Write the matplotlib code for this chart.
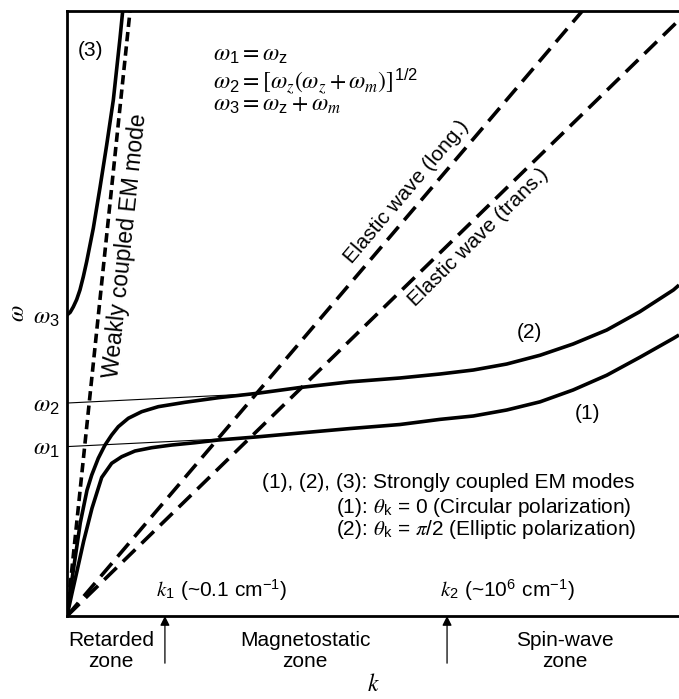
import matplotlib
matplotlib.use("Agg")
import matplotlib.pyplot as plt

plt.rcParams['font.family'] = ['Liberation Sans', 'DejaVu Sans']
plt.rcParams['mathtext.fontset'] = 'custom'
plt.rcParams['mathtext.rm'] = 'STIXGeneral'
plt.rcParams['mathtext.it'] = 'STIXGeneral:italic'
plt.rcParams['mathtext.sf'] = 'Liberation Sans'
plt.rcParams['mathtext.fallback'] = 'stix'

# characteristic frequencies (normalised axis units)
w1, w2, w3 = 0.280, 0.352, 0.4975
k1, k2 = 0.160, 0.621

# mode (1): theta_k = 0
k_mode1 = [0, 0.008, 0.0163, 0.0273, 0.0408, 0.0567, 0.073, 0.0894, 0.111, 0.1384,
           0.171, 0.209, 0.2472, 0.310, 0.381, 0.462, 0.544, 0.6095, 0.664, 0.7185,
           0.773, 0.827, 0.882, 0.936, 0.991, 1.0]
w_mode1 = [0, 0.037, 0.074, 0.124, 0.178, 0.229, 0.2524, 0.2633, 0.2727, 0.2782,
           0.2826, 0.2864, 0.2909, 0.296, 0.3025, 0.3098, 0.3165, 0.325, 0.3306, 0.3405,
           0.354, 0.3736, 0.398, 0.4276, 0.459, 0.4645]

# mode (2): theta_k = pi/2
k_mode2 = [0, 0.006, 0.0136, 0.0217, 0.0327, 0.0404, 0.0511, 0.0621, 0.073, 0.0838,
           0.1002, 0.122, 0.1492, 0.1928, 0.2472, 0.310, 0.381, 0.462, 0.544, 0.6095,
           0.664, 0.7185, 0.773, 0.827, 0.882, 0.936, 0.991, 1.0]
w_mode2 = [0, 0.046, 0.098, 0.154, 0.208, 0.233, 0.2607, 0.2826, 0.2992, 0.3129,
           0.3268, 0.3377, 0.346, 0.3532, 0.3608, 0.368, 0.3777, 0.387, 0.3934, 0.400,
           0.4066, 0.4165, 0.431, 0.4496, 0.4727, 0.503, 0.539, 0.547]

# mode (3)
k_mode3 = [0, 0.0052, 0.0103, 0.0158, 0.0212, 0.0267, 0.0322, 0.043, 0.0539, 0.0649,
           0.0757, 0.0866, 0.091]
w_mode3 = [w3, 0.502, 0.511, 0.523, 0.539, 0.561, 0.586, 0.641, 0.708, 0.779,
           0.853, 0.955, 1.0]

# straight dispersion lines (end points)
k_em, w_em = [0, 0.103], [0, 1.0]
k_long, w_long = [0, 0.842], [0, 1.0]
k_trans, w_trans = [0, 1.0], [0, 0.985]

# asymptote guides
k_guide2, w_guide2 = [0, 0.30], [w2, 0.367]
k_guide1, w_guide1 = [0, 0.30], [w1, 0.295]

fig = plt.figure(figsize=(6.79, 6.99), dpi=100)
ax = fig.add_axes([67 / 679, 83 / 699, 612 / 679, 605 / 699])
ax.set_xlim(0, 1)
ax.set_ylim(0, 1)

lw = 2.6
for kk, ww in [(k_mode1, w_mode1), (k_mode2, w_mode2), (k_mode3, w_mode3)]:
    ax.plot(kk, ww, color='black', lw=lw, solid_capstyle='butt', solid_joinstyle='round')
ax.plot(k_guide1, w_guide1, color='black', lw=0.8)
ax.plot(k_guide2, w_guide2, color='black', lw=0.8)
ax.plot(k_em, w_em, color='black', lw=lw, dashes=(2.6, 1.4))
ax.plot(k_long, w_long, color='black', lw=lw, dashes=(4.8, 2.4))
ax.plot(k_trans, w_trans, color='black', lw=lw, dashes=(4.8, 2.4))

ax.spines['right'].set_visible(False)
for side in ['left', 'bottom', 'top']:
    ax.spines[side].set_linewidth(2.0)

ax.set_xticks([])
ax.set_yticks([w1, w2, w3])
ax.set_yticklabels([r'$\omega_{\mathsf{1}}$', r'$\omega_{\mathsf{2}}$', r'$\omega_{\mathsf{3}}$'],
                   fontsize=17)
ax.tick_params(axis='y', length=0, pad=5)
ax.set_ylabel(r'$\omega$', fontsize=17, labelpad=3)

fs = 15
mfs = 17
ax.text(0.239, 0.928, r'$\omega_{\mathsf{1}} = \omega_{\mathsf{z}}$', fontsize=mfs, va='center')
ax.text(0.239, 0.885, r'$\omega_{\mathsf{2}} = [\omega_z(\omega_z + \omega_m)]^{\mathsf{1/2}}$',
        fontsize=mfs, va='center')
ax.text(0.239, 0.845, r'$\omega_{\mathsf{3}} = \omega_{\mathsf{z}} + \omega_m$', fontsize=mfs,
        va='center')

ax.text(0.039, 0.935, '(3)', fontsize=fs, ha='center', va='center')
ax.text(0.755, 0.469, '(2)', fontsize=fs, ha='center', va='center')
ax.text(0.850, 0.335, '(1)', fontsize=fs, ha='center', va='center')

ax.text(0.096, 0.612, 'Weakly coupled EM mode', fontsize=16.5, rotation=84,
        ha='center', va='center', rotation_mode='anchor')
ax.text(0.554, 0.701, 'Elastic wave (long.)', fontsize=fs, rotation=49.6,
        ha='center', va='center', rotation_mode='anchor')
ax.text(0.672, 0.626, 'Elastic wave (trans.)', fontsize=fs, rotation=44.5,
        ha='center', va='center', rotation_mode='anchor')

x_split = (336 - 67) / 612
ax.text(x_split, 0.220, '(1), (2), ', fontsize=fs, ha='right', va='center')
ax.text(x_split, 0.220, '(3): Strongly coupled EM modes', fontsize=fs, ha='left', va='center')
ax.text(x_split, 0.180, r'(1): $\theta_{\mathsf{k}}$ = 0 (Circular polarization)',
        fontsize=fs, ha='left', va='center')
ax.text(x_split, 0.143, r'(2): $\theta_{\mathsf{k}}$ = $\pi$/2 (Elliptic polarization)',
        fontsize=fs, ha='left', va='center')

ax.text(0.252, 0.043, r'$k_{\mathsf{1}}$ (~0.1 cm$^{\mathsf{-1}}$)', fontsize=fs,
        ha='center', va='center')
ax.text(0.720, 0.043, r'$k_{\mathsf{2}}$ (~10$^{\mathsf{6}}$ cm$^{\mathsf{-1}}$)', fontsize=fs,
        ha='center', va='center')

for kk in [k1, k2]:
    ax.annotate('', xy=(kk, 0), xytext=(kk, -0.078), annotation_clip=False,
                arrowprops=dict(arrowstyle='-|>', color='black', lw=0.9,
                                mutation_scale=14, shrinkA=0, shrinkB=0))

ax.text(0.072, -0.058, 'Retarded\nzone', fontsize=fs, ha='center', va='center',
        linespacing=1.1, clip_on=False)
ax.text(0.389, -0.058, 'Magnetostatic\nzone', fontsize=fs, ha='center', va='center',
        linespacing=1.1, clip_on=False)
ax.text(0.814, -0.058, 'Spin-wave\nzone', fontsize=fs, ha='center', va='center',
        linespacing=1.1, clip_on=False)
ax.text(0.5, -0.114, r'$k$', fontsize=17, ha='center', va='center', clip_on=False)

fig.savefig('out.png', dpi=100)
